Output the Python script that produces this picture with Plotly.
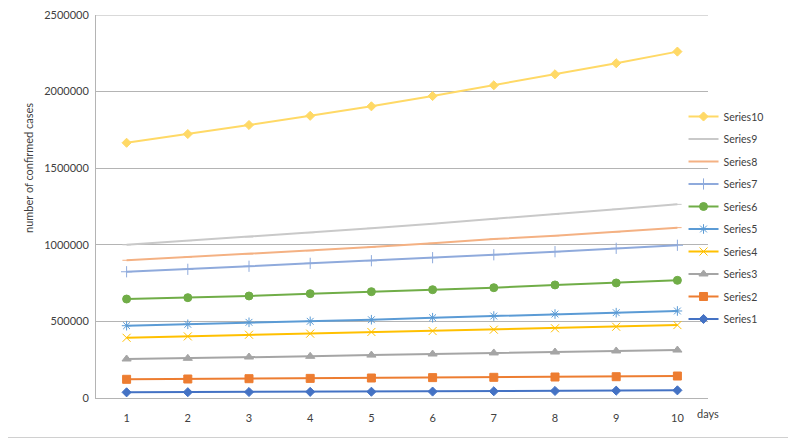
import plotly.graph_objects as go

days = [1, 2, 3, 4, 5, 6, 7, 8, 9, 10]

series1 = [37000, 38000, 39000, 40000, 41000, 42000, 44000, 46000, 48000, 50000]
series2 = [122000, 124000, 126000, 128000, 130500, 133000, 135000, 137000, 139000, 143500]
series3 = [254500, 259000, 267500, 272000, 280000, 287000, 294000, 300000, 307000, 313000]
series4 = [393000, 402000, 413000, 420000, 431000, 437000, 446000, 455000, 465000, 476000]
series5 = [472000, 481000, 494000, 500500, 511000, 524000, 535000, 548000, 557000, 568000]
series6 = [646000, 655000, 666000, 681000, 694000, 707000, 720000, 738000, 751000, 768000]
series7 = [824000, 840000, 860000, 879000, 896000, 916000, 935000, 955000, 977000, 997000]
series8 = [899000, 920000, 940000, 961000, 985000, 1010000, 1038000, 1059000, 1084000, 1112000]
series9 = [1000000, 1027000, 1051000, 1079000, 1108000, 1138000, 1168000, 1199000, 1232000, 1264000]
series10 = [1666000, 1723000, 1782000, 1842000, 1904000, 1971000, 2041000, 2113000, 2185000, 2261000]

series_names = ['Series1', 'Series2', 'Series3', 'Series4', 'Series5',
                'Series6', 'Series7', 'Series8', 'Series9', 'Series10']
series_values = [series1, series2, series3, series4, series5,
                 series6, series7, series8, series9, series10]

# excel-ish palette and marker per series
colors = ['#4472C4', '#ED7D31', '#A5A5A5', '#FFC000', '#5B9BD5',
          '#70AD47', '#8FAADC', '#F4B183', '#C9C9C9', '#FFD966']
symbols = ['diamond', 'square', 'triangle-up', 'x-thin', 'asterisk',
           'circle', 'cross-thin', 'line-ew', 'line-ew', 'diamond']
sizes = [7, 8, 8, 8, 8, 8, 8, 6, 6, 7]

FONT = 'Lato'
TXT = '#404040'

# page body keeps its default 8px margin, so the figure is 8px smaller
# and everything is laid out 8px up/left of the target positions
W, H = 788, 430
L, R, T, B = 88, 88, 7, 40
PW = W - L - R
PH = H - T - B

fig = go.Figure()
# added last-to-first so the legend lists Series10 on top
for name, vals, c, sym, sz in reversed(list(zip(series_names, series_values, colors, symbols, sizes))):
    fig.add_trace(go.Scatter(
        x=days,
        y=vals,
        name=name,
        legendgroup=name,
        mode='lines+markers',
        line=dict(color=c, width=2),
        marker=dict(symbol=sym, size=sz, color=c, line=dict(color=c, width=1)),
    ))

fig.update_layout(
    width=W,
    height=H,
    margin=dict(l=L, r=R, t=T, b=B, autoexpand=False),
    paper_bgcolor='white',
    plot_bgcolor='white',
    font=dict(family=FONT, size=11, color=TXT),
    legend=dict(
        x=0.96, xanchor='left',
        y=0.47, yanchor='middle',
        traceorder='grouped',
        tracegroupgap=3.5,
        itemwidth=30,
        font=dict(family=FONT, size=10.5, color=TXT),
        bgcolor='rgba(0,0,0,0)',
    ),
    xaxis=dict(
        range=[0.5, 10.5],
        tickvals=days,
        showgrid=False,
        zeroline=False,
        showline=True,
        linecolor='#B4B4B4',
        linewidth=1,
        ticks='',
        ticklabelstandoff=10,
        automargin=False,
    ),
    yaxis=dict(
        range=[0, 2500000],
        tickvals=[0, 500000, 1000000, 1500000, 2000000, 2500000],
        tickformat='d',
        ticklabeloverflow='allow',
        showgrid=True,
        gridcolor='#B4B4B4',
        gridwidth=1,
        zeroline=False,
        showline=True,
        linecolor='#B4B4B4',
        linewidth=1,
        ticks='',
        ticklabelstandoff=4,
        automargin=False,
    ),
)

# axis titles placed like the excel chart
fig.add_annotation(
    text='number of confirmed cases',
    xref='paper', yref='paper',
    x=-68 / PW, y=(PH - 153) / PH,
    xanchor='center', yanchor='middle',
    textangle=-90, showarrow=False,
    font=dict(family=FONT, size=11, color=TXT),
)
fig.add_annotation(
    text='days',
    xref='paper', yref='paper',
    x=1.0, y=-15 / PH,
    xanchor='center', yanchor='middle', showarrow=False,
    font=dict(family=FONT, size=11, color=TXT),
)

# top gridline sits on the plot edge, plotly drops it, so draw it
fig.add_shape(type='line', xref='paper', yref='y',
              x0=0, x1=1, y0=2500000, y1=2500000,
              line=dict(color='#B4B4B4', width=1))

# light frame edges (right and bottom) of the chart area
fx0 = -L / PW
fx1 = (W - 0.5 - L) / PW
fy0 = -(B - 0.5) / PH
fy1 = 1 + T / PH
fig.add_shape(type='line', xref='paper', yref='paper',
              x0=fx0, x1=fx1, y0=fy0, y1=fy0,
              line=dict(color='#D0D0D0', width=1))
fig.add_shape(type='line', xref='paper', yref='paper',
              x0=fx1, x1=fx1, y0=fy0, y1=fy1,
              line=dict(color='#D0D0D0', width=1))

fig.write_html('out.html')
